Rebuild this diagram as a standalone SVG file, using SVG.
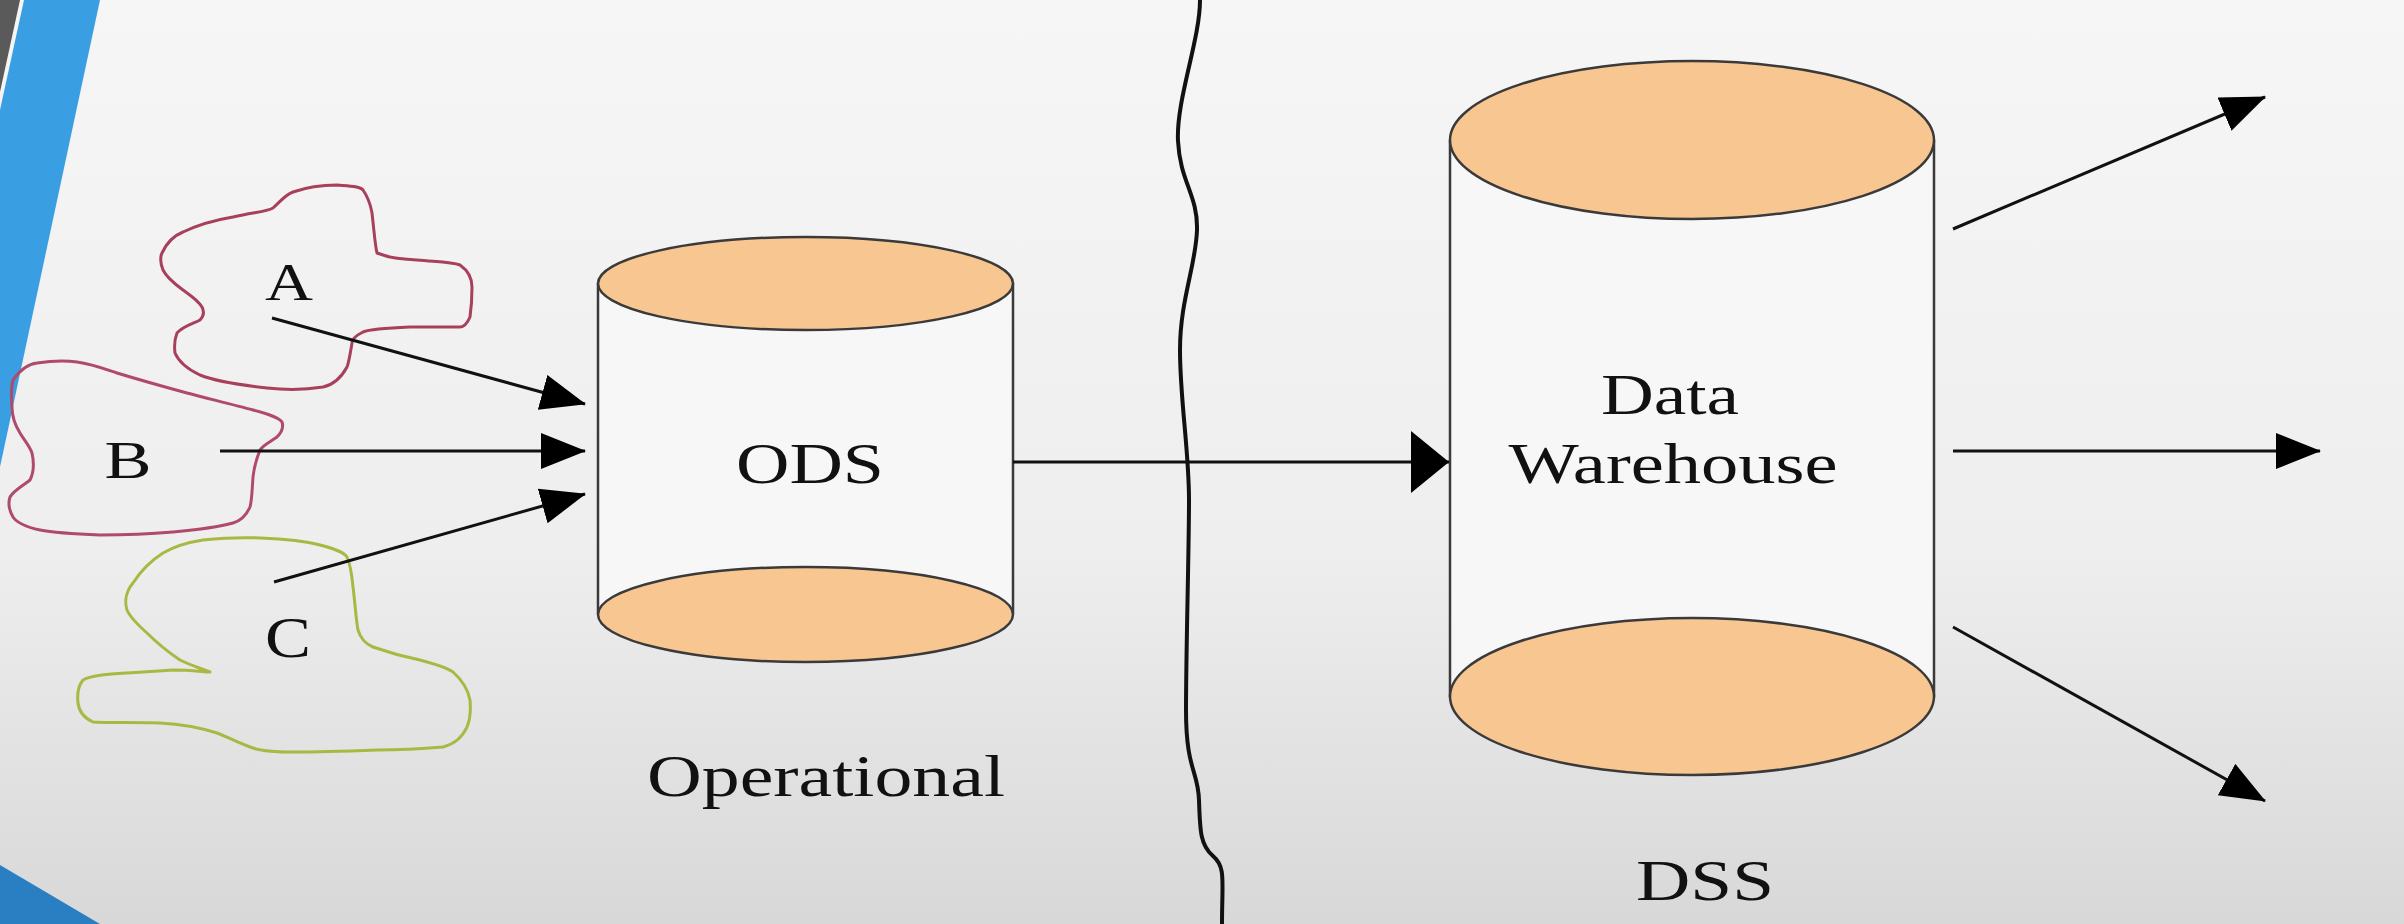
<svg xmlns="http://www.w3.org/2000/svg" width="2404" height="924" viewBox="0 0 2404 924">
<style>
.lbl{font-family:"Liberation Serif","Times New Roman",serif;fill:#111;}
.cyl{stroke:#3a3a3a;stroke-width:2.5;}
.cap{fill:#f8c690;}
.body{fill:#f7f7f7;}
.conn{stroke:#111;stroke-width:3;fill:none;}
.blob{fill:none;stroke-width:3;stroke-linejoin:round;}
</style>
<defs>
<linearGradient id="bg" x1="0" y1="0" x2="0" y2="1">
<stop offset="0" stop-color="#f6f6f6"/>
<stop offset="0.6" stop-color="#eeeeee"/>
<stop offset="1" stop-color="#d8d8d8"/>
</linearGradient>
<marker id="ah" markerUnits="userSpaceOnUse" markerWidth="46" markerHeight="38" refX="44" refY="18" orient="auto">
<path d="M0,0 L45,18 L0,36 z" fill="#000"/>
</marker>
<marker id="ahBig" markerUnits="userSpaceOnUse" markerWidth="40" markerHeight="64" refX="38" refY="31" orient="auto">
<path d="M0,0 L38,31 L0,62 z" fill="#000"/>
</marker>
</defs>
<rect width="2404" height="924" fill="url(#bg)"/>
<g id="decor">
<polygon points="24,0 100,0 0,467 0,110" fill="#3a9fe2"/>
<polygon points="0,0 20,0 0,92" fill="#5a5a5a"/>
<polygon points="0,865 100,924 0,924" fill="#2a7fc2"/>
<path d="M1200,0 C1200,40 1176,100 1178,141 S1198,195 1197,230 S1180,300 1180,350 S1189,450 1189,500 S1186,650 1186,710 S1198,770 1199,800 S1200,845 1213,856 S1222,880 1222,924" fill="none" stroke="#111" stroke-width="4" stroke-linejoin="round" stroke-linecap="round"/>
</g>
<g id="source-A">
<path class="blob" stroke="#a8405c" d="M162,253 C168,240 178,234 183,232 C200,224 215,220 233,217 C255,212 266,212 273,208 C282,200 285,195 293,192 C310,186 325,185 337,185 C350,186 360,186 363,190 C370,200 371,208 372,213 C374,230 375,245 377,253 C390,258 400,259 417,260 C440,262 452,262 460,265 C470,272 472,280 472,287 C472,300 471,310 470,317 C467,324 464,327 460,327 C440,327 425,327 410,327 C385,328 370,329 363,332 C355,336 352,340 352,343 C350,355 349,362 347,367 C340,380 332,385 323,387 C305,390 285,390 267,388 C240,385 215,381 200,375 C185,368 178,360 175,353 C174,345 175,338 177,333 C183,326 195,323 200,320 C204,316 204,311 202,307 C198,300 190,295 183,290 C172,282 166,276 163,270 C160,262 160,257 162,253 z"/>
<text class="lbl" x="289" y="300" font-size="53" text-anchor="middle" textLength="48" lengthAdjust="spacingAndGlyphs">A</text>
</g>
<g id="source-B">
<path class="blob" stroke="#b04a6a" d="M13,380 C20,370 28,364 37,363 C50,361 64,360 77,362 C92,364 105,369 117,373 C140,380 165,387 187,393 C210,399 235,405 253,410 C268,414 278,417 282,422 C284,428 281,433 277,437 C270,442 263,445 260,450 C256,460 254,468 253,477 C252,490 252,500 250,507 C246,516 240,521 233,523 C215,528 195,530 173,532 C150,534 125,535 100,535 C75,534 55,533 40,530 C26,527 17,523 13,517 C9,510 8,503 10,497 C14,490 24,485 30,480 C34,472 34,462 32,453 C29,445 24,440 20,433 C15,425 12,416 12,407 C11,395 11,388 13,380 z"/>
<text class="lbl" x="128" y="478" font-size="53" text-anchor="middle" textLength="47" lengthAdjust="spacingAndGlyphs">B</text>
</g>
<g id="source-C">
<path class="blob" stroke="#a9b843" d="M203,540 C222,538 240,537 260,538 C285,539 305,541 320,545 C335,549 344,552 347,557 C351,566 352,576 353,587 C355,602 356,620 358,630 C361,640 366,644 373,647 C390,653 405,657 420,660 C435,664 446,667 453,672 C462,680 468,690 470,700 C471,712 470,720 467,727 C462,738 455,744 443,747 C420,749 400,750 377,750 C350,751 320,752 293,752 C275,752 262,751 253,748 C240,744 228,737 217,733 C198,727 180,724 160,723 C135,722 110,723 93,722 C84,718 79,711 78,703 C77,694 78,686 83,680 C92,675 110,674 127,673 C145,672 160,671 173,670 C190,670 205,672 210,672 C200,668 190,665 180,660 C168,652 156,642 147,633 C138,625 130,617 127,610 C124,600 127,590 133,583 C140,572 152,560 163,553 C175,546 190,542 203,540 z"/>
<text class="lbl" x="288" y="657" font-size="56" text-anchor="middle" textLength="46" lengthAdjust="spacingAndGlyphs">C</text>
</g>
<g id="ods">
<rect class="body" x="598" y="283" width="415" height="331"/>
<line class="cyl" x1="598" y1="283" x2="598" y2="614"/>
<line class="cyl" x1="1013" y1="283" x2="1013" y2="614"/>
<ellipse class="cyl cap" cx="805.5" cy="614.5" rx="207.5" ry="47.5"/>
<ellipse class="cyl cap" cx="805.5" cy="283.5" rx="207.5" ry="46.5"/>
<text class="lbl" x="810" y="483" font-size="58" text-anchor="middle" textLength="148" lengthAdjust="spacingAndGlyphs">ODS</text>
</g>
<g id="operational-label">
<text class="lbl" x="826" y="796" font-size="60" text-anchor="middle" textLength="358" lengthAdjust="spacingAndGlyphs">Operational</text>
</g>
<g id="data-warehouse">
<rect class="body" x="1450" y="140" width="484" height="557"/>
<line class="cyl" x1="1450" y1="140" x2="1450" y2="697"/>
<line class="cyl" x1="1934" y1="140" x2="1934" y2="697"/>
<ellipse class="cyl cap" cx="1692" cy="696.5" rx="242" ry="78.5"/>
<ellipse class="cyl cap" cx="1692" cy="140" rx="242" ry="79"/>
<text class="lbl" x="1670" y="414" font-size="58" text-anchor="middle" textLength="138" lengthAdjust="spacingAndGlyphs">Data</text>
<text class="lbl" x="1673" y="483" font-size="58" text-anchor="middle" textLength="329" lengthAdjust="spacingAndGlyphs">Warehouse</text>
</g>
<g id="dss-label">
<text class="lbl" x="1705" y="900" font-size="58" text-anchor="middle" textLength="138" lengthAdjust="spacingAndGlyphs">DSS</text>
</g>
<g id="connectors">
<line class="conn" x1="272" y1="318" x2="585" y2="404" marker-end="url(#ah)"/>
<line class="conn" x1="220" y1="451" x2="585" y2="451" marker-end="url(#ah)"/>
<line class="conn" x1="274" y1="582" x2="585" y2="494" marker-end="url(#ah)"/>
<line class="conn" x1="1013" y1="462" x2="1449" y2="462" marker-end="url(#ahBig)"/>
<line class="conn" x1="1953" y1="229" x2="2265" y2="97" marker-end="url(#ah)"/>
<line class="conn" x1="1953" y1="451" x2="2320" y2="451" marker-end="url(#ah)"/>
<line class="conn" x1="1953" y1="627" x2="2265" y2="801" marker-end="url(#ah)"/>
</g>
</svg>
